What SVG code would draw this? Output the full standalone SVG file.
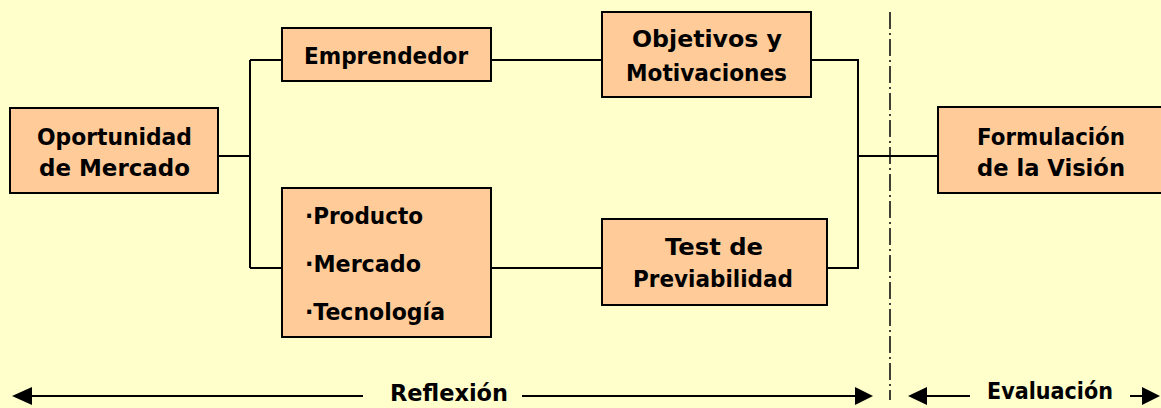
<svg xmlns="http://www.w3.org/2000/svg" width="1161" height="408" viewBox="0 0 1161 408">
<style>
.box{fill:#FFCC99;stroke:#000;stroke-width:2}
.t{font-family:"DejaVu Sans","Liberation Sans",sans-serif;font-weight:bold;font-size:23.5px;fill:#000}
.m{text-anchor:middle}
.c{fill:none;stroke:#000;stroke-width:2}
.ah{fill:#000}
</style>
<rect width="1161" height="408" fill="#FFFFCC"/>
<g id="connectors">
<path class="c" d="M218,156 H250 M250,60 V268 M250,60 H282 M250,268 H282"/>
<path class="c" d="M491,60 H602 M491,268 H602"/>
<path class="c" d="M811,60 H858 V268 H827 M858,156 H938"/>
</g>
<g id="divider">
<line x1="890" y1="12" x2="890" y2="400" stroke="#000" stroke-width="1.5" stroke-dasharray="17 4 2 4"/>
</g>
<g id="oportunidad">
<rect class="box" x="10" y="108" width="208" height="85"/>
<text class="t m" x="114.5" y="145" textLength="155" lengthAdjust="spacingAndGlyphs">Oportunidad</text>
<text class="t m" x="114.5" y="176" textLength="151" lengthAdjust="spacingAndGlyphs">de Mercado</text>
</g>
<g id="emprendedor">
<rect class="box" x="282" y="28" width="209" height="53"/>
<text class="t m" x="386" y="64" textLength="164" lengthAdjust="spacingAndGlyphs">Emprendedor</text>
</g>
<g id="factores">
<rect class="box" x="282" y="188" width="209" height="149"/>
<text class="t" x="305" y="224" textLength="118" lengthAdjust="spacingAndGlyphs">·Producto</text>
<text class="t" x="305" y="272" textLength="116" lengthAdjust="spacingAndGlyphs">·Mercado</text>
<text class="t" x="305" y="320" textLength="140" lengthAdjust="spacingAndGlyphs">·Tecnología</text>
</g>
<g id="objetivos">
<rect class="box" x="602" y="12" width="209" height="85"/>
<text class="t m" x="707" y="47" textLength="150" lengthAdjust="spacingAndGlyphs">Objetivos y</text>
<text class="t m" x="706.5" y="81" textLength="161" lengthAdjust="spacingAndGlyphs">Motivaciones</text>
</g>
<g id="test">
<rect class="box" x="602" y="219" width="225" height="86"/>
<text class="t m" x="714" y="255" textLength="98" lengthAdjust="spacingAndGlyphs">Test de</text>
<text class="t m" x="713" y="287" textLength="160" lengthAdjust="spacingAndGlyphs">Previabilidad</text>
</g>
<g id="formulacion">
<rect class="box" x="938" y="107" width="230" height="86"/>
<text class="t m" x="1051" y="145" textLength="148" lengthAdjust="spacingAndGlyphs">Formulación</text>
<text class="t m" x="1051" y="176" textLength="148" lengthAdjust="spacingAndGlyphs">de la Visión</text>
</g>
<g id="reflexion">
<line x1="32" y1="396" x2="363" y2="396" stroke="#000" stroke-width="2"/>
<polygon class="ah" points="12,396 32,387 32,405"/>
<text class="t" x="390" y="401" textLength="118" lengthAdjust="spacingAndGlyphs">Reflexión</text>
<line x1="522" y1="396" x2="856" y2="396" stroke="#000" stroke-width="2"/>
<polygon class="ah" points="873,396 855,387 855,405"/>
</g>
<g id="evaluacion">
<line x1="926" y1="396" x2="970" y2="396" stroke="#000" stroke-width="2"/>
<polygon class="ah" points="908,396 927,387 927,405"/>
<text class="t" x="987" y="399" textLength="126" lengthAdjust="spacingAndGlyphs">Evaluación</text>
<line x1="1130" y1="396" x2="1143" y2="396" stroke="#000" stroke-width="2"/>
<polygon class="ah" points="1160,396 1142,387 1142,405"/>
</g>
</svg>
